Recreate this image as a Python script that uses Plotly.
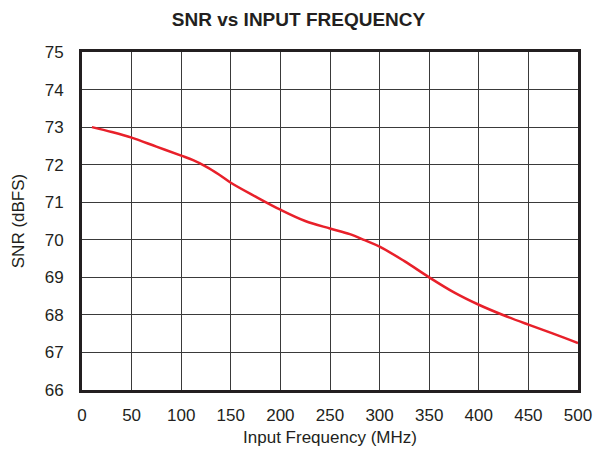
import plotly.graph_objects as go

freq_mhz = [10, 30, 50, 75, 100, 112, 125, 138, 150, 175, 200, 225, 250, 270, 285, 300, 325, 350, 375, 400, 425, 450, 475, 500]
snr_dbfs = [73.0, 72.87, 72.72, 72.48, 72.24, 72.12, 71.95, 71.74, 71.52, 71.15, 70.8, 70.5, 70.3, 70.15, 69.99, 69.82, 69.43, 69.0, 68.6, 68.27, 67.99, 67.74, 67.5, 67.25]

x_ticks = list(range(0, 501, 50))
y_ticks = list(range(66, 76))

font = "Liberation Sans, Arial, sans-serif"

fig = go.Figure()
fig.add_trace(go.Scatter(
    x=freq_mhz, y=snr_dbfs, mode="lines",
    line=dict(color="#e8202a", width=2.5, shape="spline", smoothing=1.0),
    showlegend=False, hoverinfo="skip",
))

fig.update_layout(
    width=597, height=450,
    margin=dict(l=82, r=19, t=52, b=60),
    paper_bgcolor="white", plot_bgcolor="white",
    font=dict(family=font, size=17, color="#231f20"),
    title=dict(text="<b>SNR vs INPUT FREQUENCY</b>", x=0.5, xanchor="center",
               y=1 - 19 / 450, yanchor="middle", font=dict(size=19, family=font, color="#231f20")),
)
fig.update_xaxes(
    range=[0, 500], tickvals=x_ticks, ticktext=[str(v) for v in x_ticks],
    showgrid=True, gridcolor="#3a3a3a", gridwidth=1,
    showline=True, linecolor="#231f20", linewidth=3, mirror=True,
    ticks="", zeroline=False, ticklabelstandoff=8, automargin=False,
    title=dict(text="Input Frequency (MHz)", font=dict(size=17), standoff=7),
)
fig.update_yaxes(
    range=[66, 75], tickvals=y_ticks, ticktext=[str(v) for v in y_ticks],
    showgrid=True, gridcolor="#3a3a3a", gridwidth=1,
    showline=True, linecolor="#231f20", linewidth=3, mirror=True,
    ticks="", zeroline=False, ticklabelstandoff=12, automargin=False,
    title=dict(text="SNR (dBFS)", font=dict(size=17), standoff=16),
)

fig.write_html("out.html")
